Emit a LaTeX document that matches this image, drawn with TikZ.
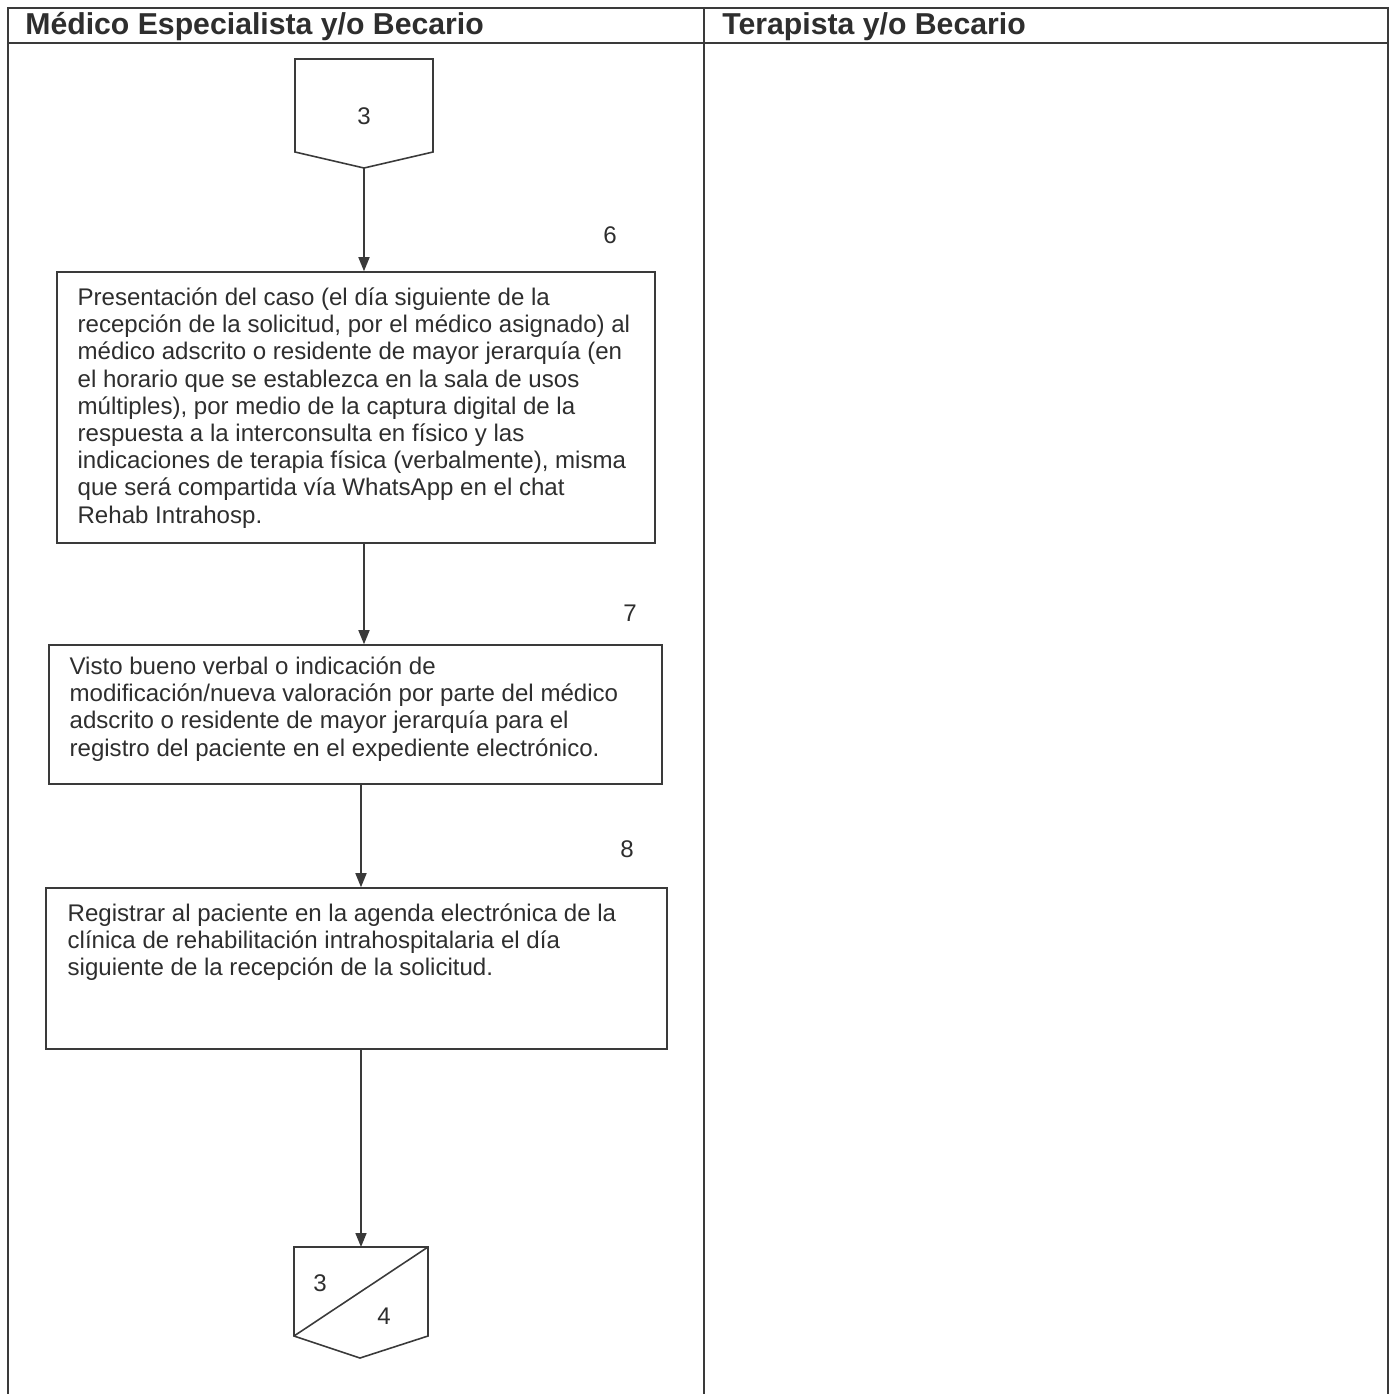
\documentclass[tikz,border=0pt]{standalone}
\usepackage{fontspec}
\setmainfont{Liberation Sans}
\usetikzlibrary{arrows.meta,positioning,calc}
\definecolor{trazo}{HTML}{3A3A3A}
\definecolor{letra}{HTML}{2E2E2E}
\tikzset{
  carril/.style={draw=trazo, line width=0.9pt},
  titulo/.style={
      font=\fontsize{17.2}{20}\selectfont\bfseries,
      text=letra,
      anchor=base west,
      inner sep=0pt
  },
  proceso/.style={
      draw=trazo,
      line width=0.9pt,
      rectangle,
      inner sep=0pt
  },
  texto/.style={
      font=\fontsize{13.7}{15.5}\selectfont,
      text=letra,
      align=left,
      anchor=north west,
      inner sep=0pt
  },
  numero/.style={font=\fontsize{13.7}{15.5}\selectfont, text=letra, inner sep=0pt},
  flecha/.style={draw=trazo, line width=0.9pt, -{Triangle[length=0.28cm,width=0.22cm]}}
}

\begin{document}
\begin{tikzpicture}[x=0.02cm,y=-0.02cm]
  \useasboundingbox (0,0) rectangle (1390,1394);

  % carriles
  \draw[carril] (8,1394) -- (8,8) -- (1388,8) -- (1388,1394);
  \draw[carril] (8,43) -- (1388,43);
  \draw[carril] (704,8) -- (704,1394);
  \node[titulo] (medico) at (25,34) {Médico Especialista y/o Becario};
  \node[titulo] (terapista) at (722,34) {Terapista y/o Becario};

  % conector de entrada
  \draw[carril] (295,59) -- (433,59) -- (433,152) -- (364,168) -- (295,152) -- cycle;
  \node[numero] (c3) at (364,116) {3};
  \coordinate (c3tip) at (364,168);

  % paso 6
  \node[proceso, minimum width=11.96cm, minimum height=5.42cm] (p6) at (356,407.5) {};
  \node[texto] (t6) at ([shift={(21,16)}]p6.north west)
    {Presentación del caso (el día siguiente de la\\
     recepción de la solicitud, por el médico asignado) al\\
     médico adscrito o residente de mayor jerarquía (en\\
     el horario que se establezca en la sala de usos\\
     múltiples), por medio de la captura digital de la\\
     respuesta a la interconsulta en físico y las\\
     indicaciones de terapia física (verbalmente), misma\\
     que será compartida vía WhatsApp en el chat\\
     Rehab Intrahosp.};
  \node[numero] (n6) at (610,235) {6};

  % paso 7
  \node[proceso, minimum width=12.26cm, minimum height=2.78cm] (p7) at (355.5,714.5) {};
  \node[texto] (t7) at ([shift={(21,12)}]p7.north west)
    {Visto bueno verbal o indicación de\\
     modificación/nueva valoración por parte del médico\\
     adscrito o residente de mayor jerarquía para el\\
     registro del paciente en el expediente electrónico.};
  \node[numero] (n7) at (630,613) {7};

  % paso 8
  \node[proceso, minimum width=12.42cm, minimum height=3.22cm] (p8) at (356.5,968.5) {};
  \node[texto] (t8) at ([shift={(22,16)}]p8.north west)
    {Registrar al paciente en la agenda electrónica de la\\
     clínica de rehabilitación intrahospitalaria el día\\
     siguiente de la recepción de la solicitud.};
  \node[numero] (n8) at (627,849) {8};

  % conector de salida
  \coordinate (c34top) at (361,1247);
  \draw[carril] (294,1247) -- (428,1247) -- (428,1336) -- (360,1358) -- (294,1336) -- cycle;
  \draw[carril] (294,1336) -- (428,1247);
  \node[numero] (c34a) at (320,1283) {3};
  \node[numero] (c34b) at (384,1316) {4};

  % flechas
  \draw[flecha] (c3tip) -- (c3tip |- p6.north);
  \draw[flecha] (p6.south -| c3tip) -- (p7.north -| c3tip);
  \draw[flecha] (p7.south -| c34top) -- (p8.north -| c34top);
  \draw[flecha] (p8.south -| c34top) -- (c34top);
\end{tikzpicture}
\end{document}
